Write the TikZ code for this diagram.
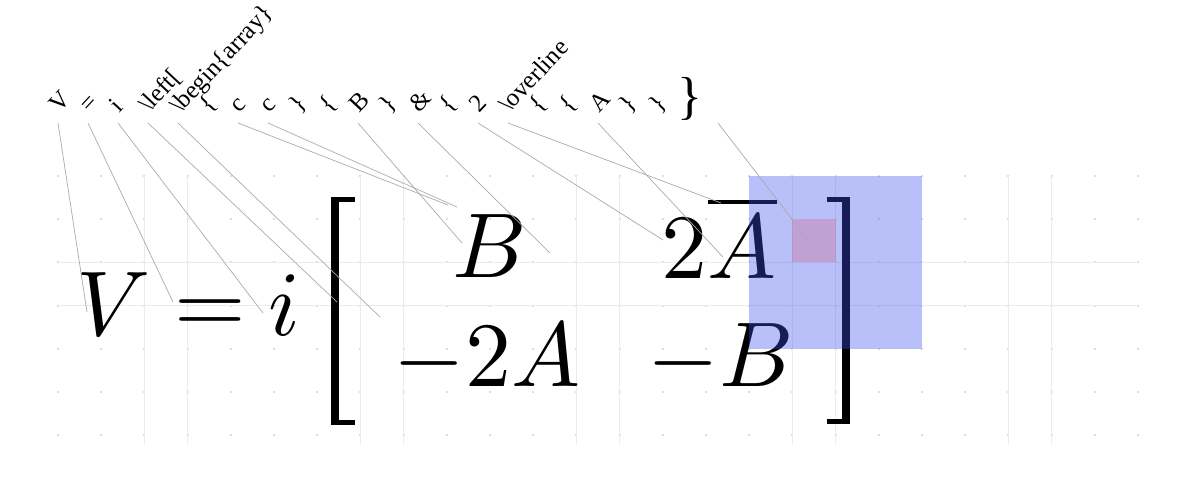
\documentclass[tikz,border=0pt]{standalone}
\usepackage{fontspec}
\newfontfamily\tokfont{Liberation Serif}
\definecolor{ovblue}{RGB}{60,80,240}
\definecolor{ovpink}{RGB}{225,50,80}
\begin{document}
\begin{tikzpicture}[x=1pt,y=-1pt,
  tok/.style={font=\tokfont\fontsize{25}{29}\selectfont, rotate=47, anchor=base west, inner sep=0pt},
  bigtok/.style={font=\tokfont\fontsize{52}{54}\selectfont, inner sep=0pt},
  link/.style={draw=black!33, line width=0.7pt},
  fm/.style={scale=9.2, inner sep=0pt, anchor=base west},
  gridfull/.style={draw=black!8, line width=1pt},
  griddot/.style={fill=black!13},
  brk/.style={fill=black}]
\useasboundingbox (0,0) rectangle (1196,479);
\fill[white] (0,0) rectangle (1196,479);
% grid
\foreach \k in {0,...,25} \foreach \j in {0,...,6}
  \fill[griddot] ({58+43.2*\k-1},{176+43.2*\j-1}) rectangle +(2,2);
\foreach \k in {2,3,7,8,12,13,17,18,22,23}
  \draw[gridfull] ({58+43.2*\k},176) -- ({58+43.2*\k},445);
\foreach \j in {2,3}
  \draw[gridfull] (58,{176+43.2*\j}) -- (1138,{176+43.2*\j});
% formula
\node[fm] (fV) at (75,335) {$V$};
\node[fm] (fEq) at (173,333) {$=$};
\node[fm] (fI) at (267,335) {$i$};
\node[fm] (fB) at (451,277) {$B$};
\node[fm] (fTwoA) at (660,278) {$2\overline{A}$};
\node[fm] (fMTwoA) at (392,386) {$-2A$};
\node[fm] (fMB) at (646,386) {$-B$};
% brackets
\fill[brk] (331,197) rectangle (339,425);
\fill[brk] (331,197) rectangle (355,202);
\fill[brk] (331,420) rectangle (355,425);
\fill[brk] (842,197) rectangle (850,424);
\fill[brk] (827,197) rectangle (850,202);
\fill[brk] (827,419) rectangle (850,424);
% overlays
\fill[ovblue, opacity=0.36] (749.2,176) rectangle (922,348.8);
\fill[ovpink, opacity=0.22] (792.4,219.2) rectangle (835.6,262.4);
% tokens
\node[tok] (t1) at (59,114) {V};
\node[tok] (t2) at (89,114) {=};
\node[tok] (t3) at (119,114) {i};
\node[tok] (t4) at (149,114) {\textbackslash left[};
\node[tok] (t5) at (180,115) {\textbackslash begin\{array\}};
\node[tok] (t6) at (209,114) {\{};
\node[tok] (t7) at (239,114) {c};
\node[tok] (t8) at (269,114) {c};
\node[tok] (t9) at (299,114) {\}};
\node[tok] (t10) at (329,114) {\{};
\node[tok] (t11) at (359,114) {B};
\node[tok] (t12) at (389,114) {\}};
\node[tok] (t13) at (419,114) {\&};
\node[tok] (t14) at (449,114) {\{};
\node[tok] (t15) at (479,114) {2};
\node[tok] (t16) at (509,114) {\textbackslash overline};
\node[tok] (t17) at (539,114) {\{};
\node[tok] (t18) at (569,114) {\{};
\node[tok] (t19) at (599,114) {A};
\node[tok] (t20) at (629,114) {\}};
\node[tok] (t21) at (659,114) {\}};
\node[bigtok] (t22) at (690,99) {\}};
% connector ends
\coordinate (s1) at (58,123);   \coordinate (e1) at (87,312);
\coordinate (s2) at (88,123);   \coordinate (e2) at (173,302);
\coordinate (s3) at (118,123);  \coordinate (e3) at (263,313);
\coordinate (s4) at (148,123);  \coordinate (e4) at (337,302);
\coordinate (s5) at (178,123);  \coordinate (e5) at (380,317);
\coordinate (s7) at (238,123);  \coordinate (e7) at (448,205);
\coordinate (s8) at (268,123);  \coordinate (e8) at (457,207);
\coordinate (s11) at (358,123); \coordinate (e11) at (462,243);
\coordinate (s13) at (418,123); \coordinate (e13) at (550,253);
\coordinate (s15) at (478,123); \coordinate (e15) at (663,240);
\coordinate (s16) at (508,123); \coordinate (e16) at (721,203);
\coordinate (s19) at (598,123); \coordinate (e19) at (723,257);
\coordinate (s22) at (718,123); \coordinate (e22) at (812,245);
\foreach \n in {1,2,3,4,5,7,8,11,13,15,16,19,22}
  \draw[link] (s\n) -- (e\n);
\end{tikzpicture}
\end{document}
